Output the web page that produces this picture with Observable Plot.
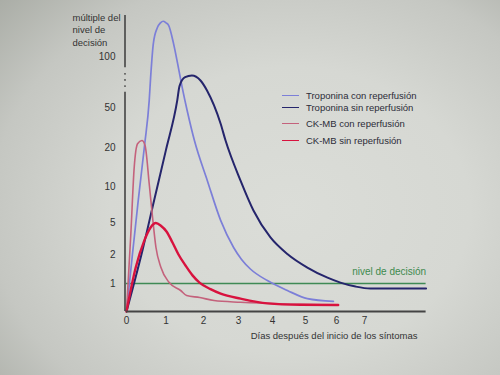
<!DOCTYPE html>
<html>
<head>
<meta charset="utf-8">
<script src="https://cdn.jsdelivr.net/npm/d3@7"></script>
<script src="https://cdn.jsdelivr.net/npm/@observablehq/plot@0.6"></script>
<style>
  html, body { margin: 0; padding: 0; }
  body {
    width: 500px; height: 375px; overflow: hidden;
    background: radial-gradient(ellipse 80% 85% at 58% 56%, #dbddd8 0%, #d6d8d3 45%, #c5c7c2 75%, #a8aba4 100%);
    font-family: "Liberation Sans", Arial, sans-serif; color: #333;
  }
  #chart { position: relative; width: 500px; height: 375px; }
  .legend { position: absolute; left: 282px; top: 0; font-size: 9.5px; color: #2c2c38; }
  .legend .row { position: absolute; left: 0; white-space: nowrap; display: flex; align-items: center; height: 10px; }
  .legend .sw { display: inline-block; width: 17px; height: 0; border-top: 1.8px solid; margin-right: 7px; }
</style>
</head>
<body>
<div id="chart"></div>
<script>
// ---- data ----
const xTicks = [0, 1, 2, 3, 4, 5, 6, 7];
const yTicks = [1, 2, 5, 10, 20, 50, 100];

const seriesNames = [
  "Troponina con reperfusión",
  "Troponina sin reperfusión",
  "CK-MB con reperfusión",
  "CK-MB sin reperfusión"
];
const seriesColors = ["#7c7fd8", "#25256c", "#c4627c", "#d8123e"];

const tropConDays = [0, 0.15, 0.30, 0.46, 0.575, 0.61, 0.68, 0.78, 0.86, 0.93, 1.0, 1.07, 1.2, 1.31, 1.43, 1.57, 1.76, 2.11, 2.49, 2.86, 3.09, 3.35, 3.85, 4.45, 5.06, 5.9];
const tropConVals = [0, 2.0, 8.2, 22.3, 57, 79, 116, 135, 141, 143, 141, 138, 116, 93, 70, 47, 25, 11.5, 5.3, 2.66, 1.83, 1.5, 1.1, 0.75, 0.46, 0.36];

const tropSinDays = [0, 0.405, 0.70, 0.995, 1.3, 1.36, 1.51, 1.69, 1.92, 2.1, 2.49, 2.63, 3.06, 3.44, 3.94, 4.45, 5.06, 5.71, 6.14, 6.68, 7.21, 9.2];
const tropSinVals = [0, 2.4, 8.1, 19.2, 56.9, 71, 79.7, 81.4, 76.5, 66.7, 37.8, 25.2, 11.5, 6.67, 3.6, 2.05, 1.55, 1.2, 1.03, 0.89, 0.82, 0.82];

const ckConDays = [0, 0.11, 0.195, 0.28, 0.39, 0.47, 0.575, 0.66, 0.745, 0.87, 1.08, 1.39, 1.55, 1.9, 2.3, 3.06, 4.45, 6.06];
const ckConVals = [0, 3.94, 14.9, 22.8, 25.2, 21.5, 10.7, 5.7, 2.68, 1.56, 1.04, 0.75, 0.57, 0.5, 0.39, 0.33, 0.27, 0.24];

const ckSinDays = [0, 0.235, 0.45, 0.615, 0.74, 0.87, 1.013, 1.173, 1.333, 1.52, 1.707, 1.893, 2.2, 2.49, 3.06, 3.85, 4.85, 6.06];
const ckSinVals = [0, 1.56, 3.3, 4.56, 4.95, 4.7, 4.16, 3.13, 2.0, 1.62, 1.28, 1.03, 0.8, 0.64, 0.46, 0.29, 0.24, 0.23];

const decisionLevel = 1;
const decisionLabel = "nivel de decisión";
const xEnd = 9.2;            // right end of axis / decision line (days)
const yTop = 150;            // top of the broken y axis
const yBreak = [65, 89];     // gap in the y axis line
const yBreakDots = [71, 77, 83];

const yTitle = "múltiple del\nnivel de\ndecisión";
const xTitle = "Días después del inicio de los síntomas";

// ---- build tidy table ----
const allDays = [tropConDays, tropSinDays, ckConDays, ckSinDays];
const allVals = [tropConVals, tropSinVals, ckConVals, ckSinVals];
const rows = [];
seriesNames.forEach((name, i) => {
  allDays[i].forEach((d, j) => rows.push({series: name, day: d, value: allVals[i][j]}));
});
const widths = [1.7, 2, 1.6, 2.4];

const lineMarks = seriesNames.map((name, i) =>
  Plot.line(rows.filter(r => r.series === name), {
    x: "day", y: "value", stroke: seriesColors[i], strokeWidth: widths[i], curve: "monotone-x"
  })
);

const chart = Plot.plot({
  width: 500, height: 375,
  marginLeft: 126, marginRight: 75, marginTop: 15, marginBottom: 64,
  style: {background: "transparent", fontFamily: "Liberation Sans, Arial, sans-serif", color: "#333"},
  x: {type: "linear", domain: [0, 1, 2, 3, 4, 5, 6, 7], range: [126, 165.5, 203, 238, 272, 305, 336, 364], label: null},
  y: {type: "linear", domain: [0, 1, 2, 5, 10, 20, 50, 100, 150], range: [311, 283, 254, 222, 186, 147, 107, 56, 15], label: null},
  marks: [
    // decision level
    Plot.ruleY([decisionLevel], {x1: 0, x2: xEnd, stroke: "#3f8a55", strokeWidth: 1.5}),
    Plot.text([{x: xEnd, y: decisionLevel, t: decisionLabel}], {x: "x", y: "y", text: "t", dy: -12, textAnchor: "end", fill: "#3d8a4f", fontSize: 10}),
    // curves
    ...lineMarks,
    // x axis line
    Plot.ruleY([0], {x1: 0, x2: xEnd, stroke: "#444", strokeWidth: 1.8}),
    // broken y axis line
    Plot.ruleX([0], {y1: 0, y2: yBreak[0], stroke: "#444", strokeWidth: 1.6, dx: -1.5}),
    Plot.ruleX([0], {y1: yBreak[1], y2: yTop, stroke: "#444", strokeWidth: 1.6, dx: -1.5}),
    Plot.dot(yBreakDots, {x: 0, y: d => d, r: 0.9, fill: "#444", stroke: null, dx: -1.5}),
    // axes
    Plot.axisX({ticks: xTicks, tickSize: 0, tickPadding: 5, fontSize: 10, fill: "#333", tickFormat: d => String(d)}),
    Plot.axisY({ticks: yTicks, tickSize: 0, tickPadding: 11, fontSize: 10, fill: "#333", tickFormat: d => String(d)}),
    // titles
    Plot.text([yTitle], {frameAnchor: "top-left", dx: -54, dy: -4, lineAnchor: "top", textAnchor: "start", lineHeight: 1.35, fontSize: 9.5, fill: "#333"}),
    Plot.text([xTitle], {frameAnchor: "bottom-right", dx: -8, dy: 27, textAnchor: "end", fontSize: 9.5, fill: "#333"})
  ]
});

const container = document.getElementById("chart");
container.appendChild(chart);

// legend (inside plot area, as in the reference)
const legendRowY = [95, 107, 123, 140];
const legend = document.createElement("div");
legend.className = "legend";
seriesNames.forEach((name, i) => {
  const row = document.createElement("div");
  row.className = "row";
  row.style.top = (legendRowY[i] - 5) + "px";
  const sw = document.createElement("span");
  sw.className = "sw";
  sw.style.borderTopColor = seriesColors[i];
  const label = document.createElement("span");
  label.textContent = name;
  row.appendChild(sw);
  row.appendChild(label);
  legend.appendChild(row);
});
container.appendChild(legend);
</script>
</body>
</html>
